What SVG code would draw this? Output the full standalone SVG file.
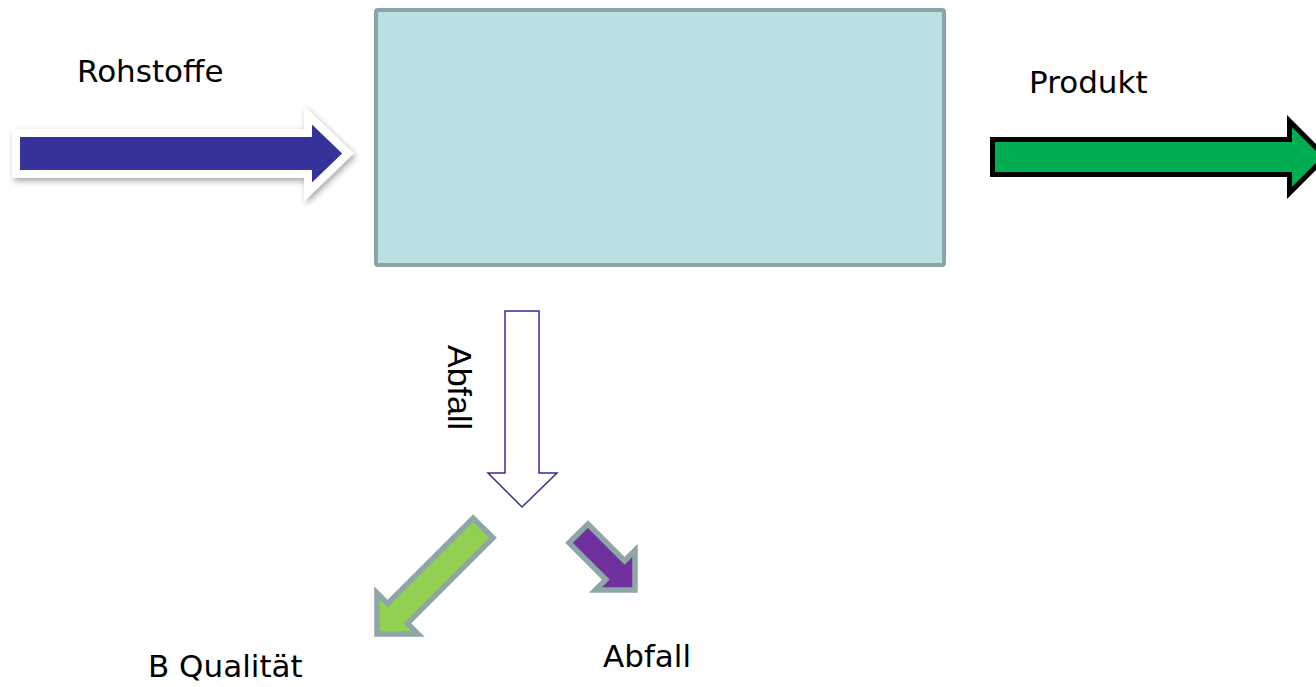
<svg xmlns="http://www.w3.org/2000/svg" width="1316" height="687" viewBox="0 0 1316 687">
  <style>
    .label { font-family: "DejaVu Sans", Verdana, sans-serif; font-size: 31px; fill: #000; }
    .vlabel { font-family: "Liberation Sans", Arial, sans-serif; font-size: 34px; fill: #000; }
    .flow-grey { stroke: #8FA6A6; stroke-width: 5.5; stroke-linejoin: miter; stroke-miterlimit: 10; }
  </style>
  <defs>
    <filter id="softShadow" x="-10%" y="-40%" width="120%" height="180%">
      <feGaussianBlur in="SourceAlpha" stdDeviation="3"/>
      <feOffset dx="2" dy="3" result="blur"/>
      <feComponentTransfer><feFuncA type="linear" slope="0.35"/></feComponentTransfer>
      <feMerge><feMergeNode/><feMergeNode in="SourceGraphic"/></feMerge>
    </filter>
  </defs>

  <rect width="1316" height="687" fill="#fff"/>

  <!-- process box -->
  <g id="process">
    <rect x="376" y="10" width="568" height="255" rx="2" fill="#BBE0E3" stroke="#8BA5A6" stroke-width="4"/>
  </g>

  <!-- material flows -->
  <g id="connectors">
    <!-- raw material input -->
    <polygon points="16,133 308,133 308,115 348,153.5 308,192 308,174 16,174"
             fill="#343399" stroke="#fff" stroke-width="8" stroke-linejoin="miter" filter="url(#softShadow)"/>
    <!-- product output -->
    <polygon points="992.5,139.5 1289.5,139.5 1289.5,121 1325.5,157 1289.5,193 1289.5,174.5 992.5,174.5"
             fill="#00AD50" stroke="#000" stroke-width="5" stroke-linejoin="miter"/>
    <!-- waste stream -->
    <polygon points="505,311 539,311 539,473 557,473 522,507 488,473 505,473"
             fill="#fff" stroke="#2E3192" stroke-width="1.5"/>
    <!-- split: second-grade quality (down-left) -->
    <polygon class="flow-grey" transform="translate(377,634) rotate(135)"
             points="-150,-14 -29,-14 -29,-29 0,0 -29,29 -29,14 -150,14" fill="#92D050"/>
    <!-- split: disposal (down-right) -->
    <polygon class="flow-grey" transform="translate(635,590) rotate(45)"
             points="-80,-13.3 -28,-13.3 -28,-28 0,0 -28,28 -28,13.3 -80,13.3" fill="#7030A0"/>
  </g>

  <g id="label-rohstoffe"><text class="label" x="77" y="82">Rohstoffe</text></g>
  <g id="label-produkt"><text class="label" x="1029" y="93">Produkt</text></g>
  <g id="label-abfall-stream"><text class="vlabel" transform="translate(448,345) rotate(90)">Abfall</text></g>
  <g id="label-b-qualitaet"><text class="label" x="148" y="677">B Qualität</text></g>
  <g id="label-abfall"><text class="label" x="603" y="667">Abfall</text></g>
</svg>
